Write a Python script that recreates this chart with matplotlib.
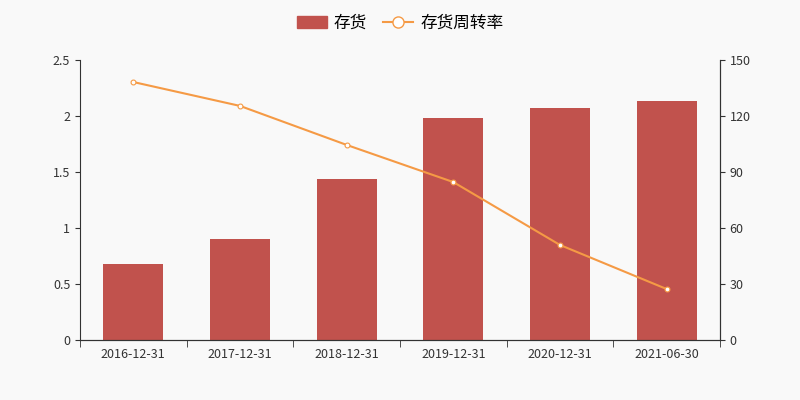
import matplotlib
matplotlib.use("Agg")
import matplotlib.pyplot as plt
from matplotlib.lines import Line2D
from matplotlib.patches import Patch

plt.rcParams['font.family'] = ['Noto Sans CJK SC', 'DejaVu Sans']

categories = ["2016-12-31", "2017-12-31", "2018-12-31", "2019-12-31", "2020-12-31", "2021-06-30"]
inventory = [0.68, 0.90, 1.44, 1.98, 2.07, 2.13]
turnover = [138.2, 125.4, 104.5, 84.6, 50.9, 27.3]

bar_c = "#c1524d"
line_c = "#f59a45"
fig = plt.figure(figsize=(8, 4), dpi=100, facecolor="#f9f9f9")
ax = fig.add_axes([0.1, 0.15, 0.8, 0.7])
ax.set_facecolor("#f9f9f9")
x = list(range(len(categories)))
ax.bar(x, inventory, width=0.56, color=bar_c, zorder=2)
ax.set_xlim(-0.5, len(categories) - 0.5)
ax.set_ylim(0, 2.5)
ax.set_yticks([0, 0.5, 1, 1.5, 2, 2.5])
ax.set_yticklabels(["0", "0.5", "1", "1.5", "2", "2.5"])
ax.set_xticks(x)
ax.set_xticklabels(categories)
ax.set_xticks([i - 0.5 for i in range(len(categories) + 1)], minor=True)
ax.tick_params(axis='x', which='major', length=0, pad=6)
ax.tick_params(axis='x', which='minor', length=5, color="#333333")
ax2 = ax.twinx()
ax2.plot(x, turnover, color=line_c, lw=1.5, marker='o', ms=3.5,
         markerfacecolor='white', markeredgecolor=line_c, markeredgewidth=0.8, zorder=3)
ax2.set_ylim(0, 150)
ax2.set_yticks([0, 30, 60, 90, 120, 150])
for a in (ax, ax2):
    a.spines['top'].set_visible(False)
    for s in a.spines.values():
        s.set_color("#333333")
    a.tick_params(labelsize=9, colors="#333333")
ax2.spines['left'].set_visible(False)
handles = [Patch(color=bar_c, label="存货"),
           Line2D([0], [0], color=line_c, marker='o', markerfacecolor='white', ms=8, label="存货周转率")]
fig.legend(handles=handles, loc='upper center', bbox_to_anchor=(0.5, 1.0), ncol=2,
           frameon=False, fontsize=12, handlelength=1.8, columnspacing=1.0, handletextpad=0.4)
fig.savefig("out.png", dpi=100, facecolor=fig.get_facecolor())
